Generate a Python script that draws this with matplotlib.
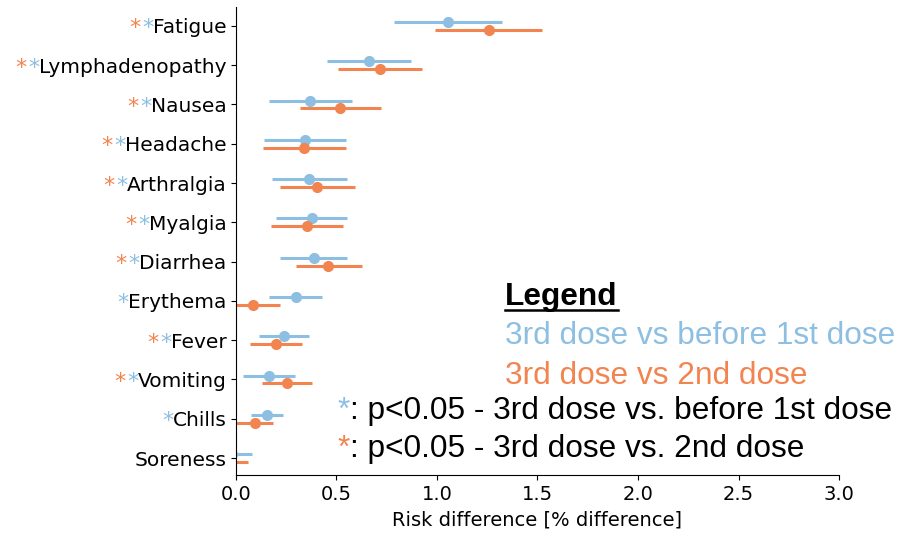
import matplotlib.pyplot as plt
from matplotlib.transforms import IdentityTransform
import numpy as np

# --- data ---
symptoms = ['Fatigue', 'Lymphadenopathy', 'Nausea', 'Headache', 'Arthralgia',
            'Myalgia', 'Diarrhea', 'Erythema', 'Fever', 'Vomiting', 'Chills',
            'Soreness']

# 3rd dose vs before 1st dose (blue)
blue_mid = [1.056, 0.663, 0.368, 0.343, 0.365, 0.376, 0.388, 0.299, 0.239, 0.166, 0.156, -0.02]
blue_lo = [0.788, 0.454, 0.166, 0.139, 0.179, 0.199, 0.219, 0.166, 0.113, 0.036, 0.073, -0.12]
blue_hi = [1.325, 0.871, 0.576, 0.546, 0.554, 0.554, 0.554, 0.429, 0.365, 0.294, 0.235, 0.080]

# 3rd dose vs 2nd dose (orange)
orange_mid = [1.260, 0.716, 0.519, 0.340, 0.405, 0.353, 0.459, 0.083, 0.199, 0.255, 0.096, -0.04]
orange_lo = [0.990, 0.509, 0.318, 0.136, 0.219, 0.172, 0.299, -0.05, 0.070, 0.129, -0.01, -0.14]
orange_hi = [1.524, 0.925, 0.721, 0.546, 0.594, 0.534, 0.625, 0.220, 0.328, 0.380, 0.182, 0.061]

# significance stars
sig_orange = [1, 1, 1, 1, 1, 1, 1, 0, 1, 1, 0, 0]
sig_blue = [1, 1, 1, 1, 1, 1, 1, 1, 1, 1, 1, 0]

BLUE = '#8dbfe2'
ORANGE = '#f2844f'

fig = plt.figure(figsize=(8.98, 5.37), dpi=100)
ax = fig.add_axes([0.2628, 0.1155, 0.6715, 0.8715])

y = np.arange(len(symptoms))
off = 0.1

b_mid = np.array(blue_mid)
o_mid = np.array(orange_mid)
ax.errorbar(b_mid, y - off,
            xerr=[b_mid - np.array(blue_lo), np.array(blue_hi) - b_mid],
            fmt='o', color=BLUE, ms=7, elinewidth=2.2, capsize=0)
ax.errorbar(o_mid, y + off,
            xerr=[o_mid - np.array(orange_lo), np.array(orange_hi) - o_mid],
            fmt='o', color=ORANGE, ms=7, elinewidth=2.2, capsize=0)

ax.set_xlim(0, 3.0)
ax.set_ylim(len(symptoms) - 0.57, -0.48)
ax.set_xticks([0.0, 0.5, 1.0, 1.5, 2.0, 2.5, 3.0])
ax.set_yticks(y)
ax.set_yticklabels(symptoms, fontsize=14.5)
ax.tick_params(axis='x', labelsize=14)
ax.set_xlabel('Risk difference [% difference]', fontsize=14, labelpad=5)
ax.spines['top'].set_visible(False)
ax.spines['right'].set_visible(False)

# stars in front of the tick labels (pixel coords)
fig.canvas.draw()
renderer = fig.canvas.get_renderer()
px = IdentityTransform()
for lab, so, sb in zip(ax.get_yticklabels(), sig_orange, sig_blue):
    bb = lab.get_window_extent(renderer)
    stars = []
    if so:
        stars.append(ORANGE)
    if sb:
        stars.append(BLUE)
    xs = bb.x0 + 1
    for c in reversed(stars):
        fig.text(xs, bb.y0 - 1, '*', color=c, fontsize=16, ha='right', va='bottom',
                 transform=px)
        xs -= 13

# legend block
lf = 'Liberation Sans'
fs = 22.8
leg = fig.text(0.5625, 0.447, 'Legend', fontsize=fs, fontweight='bold', family=lf,
               va='center', ha='left')
lb = leg.get_window_extent(renderer)
x_a, x_b = lb.x0 / fig.bbox.width, lb.x1 / fig.bbox.width
fig.lines.append(plt.Line2D([x_a, x_b], [0.423, 0.423], color='black', lw=1.8,
                            transform=fig.transFigure))
fig.text(0.5625, 0.374, '3rd dose vs before 1st dose', fontsize=fs, family=lf,
         color=BLUE, va='center', ha='left')
fig.text(0.5625, 0.300, '3rd dose vs 2nd dose', fontsize=fs, family=lf,
         color=ORANGE, va='center', ha='left')

for ytxt, c, txt in [(0.234, BLUE, ': p<0.05 - 3rd dose vs. before 1st dose'),
                     (0.164, ORANGE, ': p<0.05 - 3rd dose vs. 2nd dose')]:
    s = fig.text(0.376, ytxt, '*', fontsize=fs, family=lf, color=c, va='center', ha='left')
    sb_ = s.get_window_extent(renderer)
    fig.text(sb_.x1 / fig.bbox.width, ytxt, txt, fontsize=fs, family=lf,
             color='black', va='center', ha='left')

fig.savefig('out.png', dpi=100)
